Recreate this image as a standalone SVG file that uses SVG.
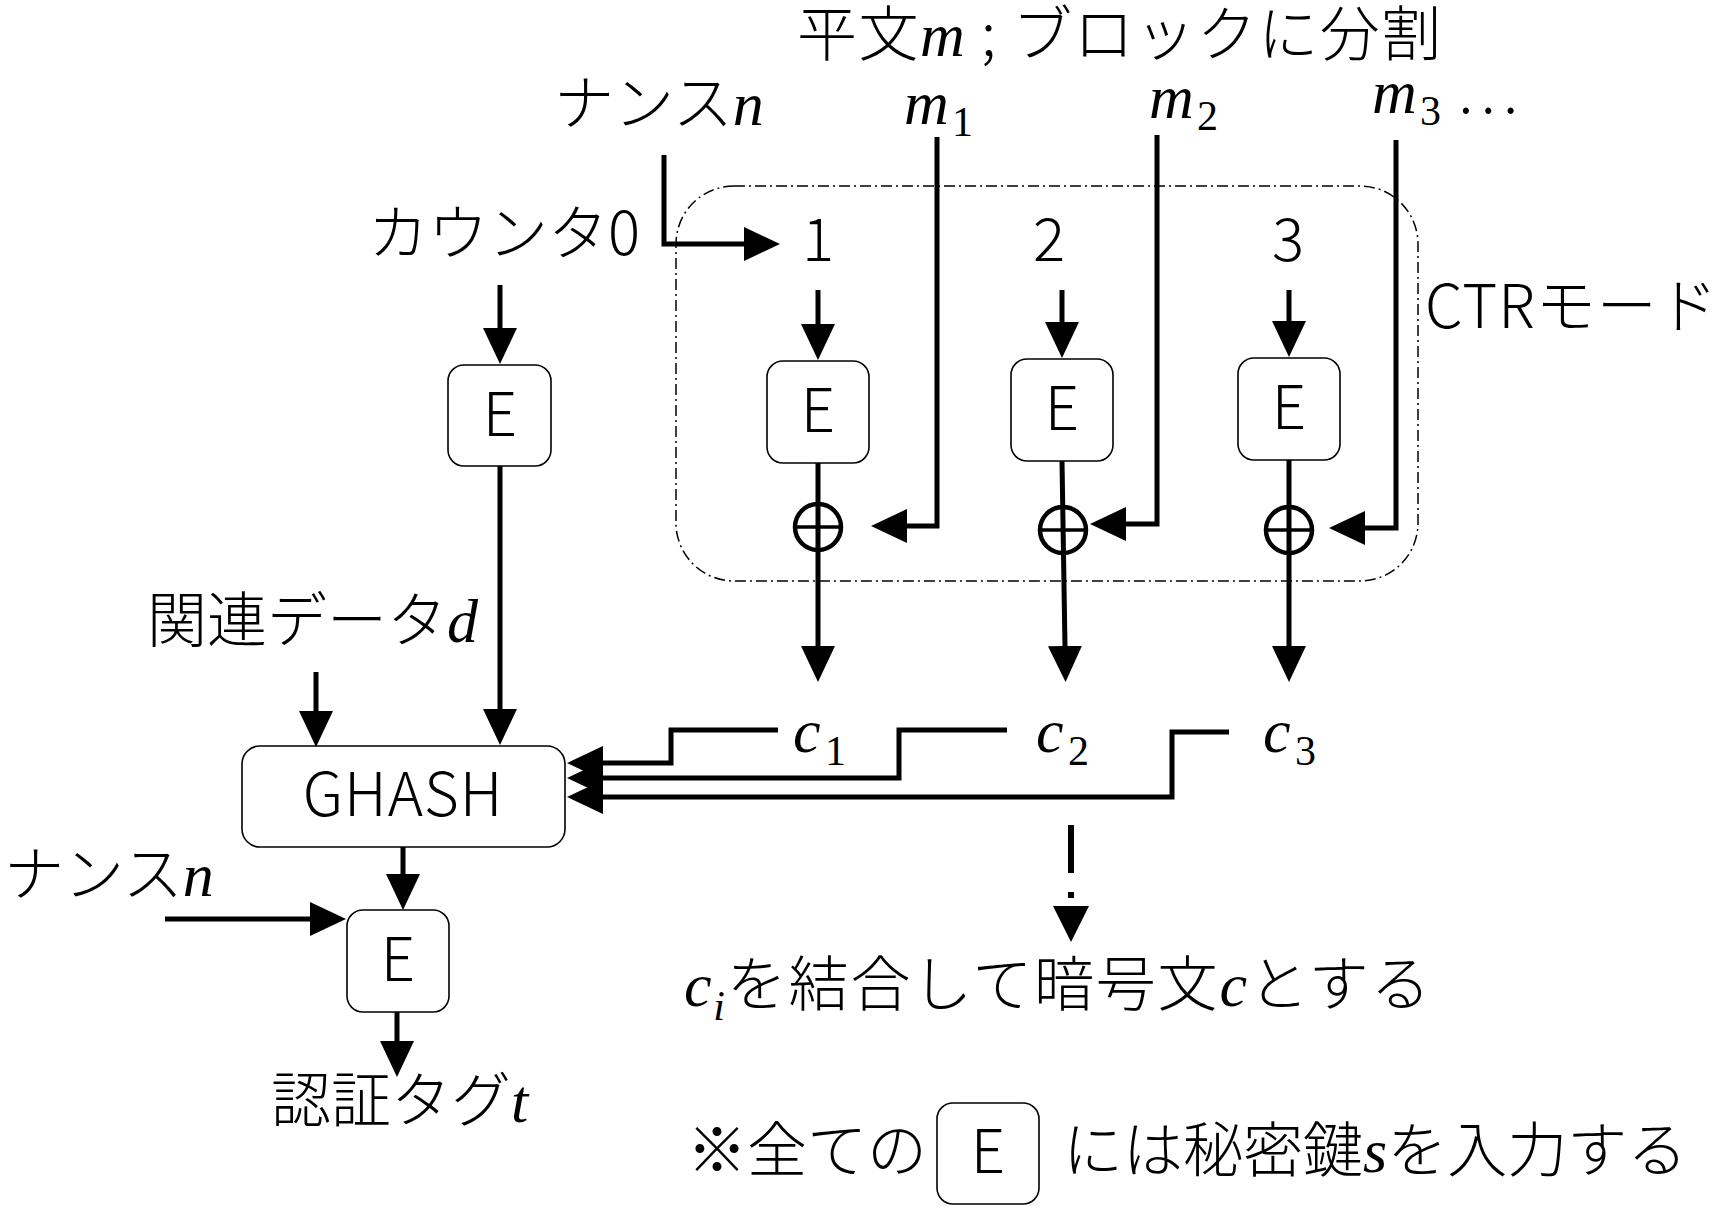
<svg xmlns="http://www.w3.org/2000/svg" width="1719" height="1207" viewBox="0 0 1719 1207">
<style>
.t{font-family:"Noto Sans CJK JP","Noto Sans",sans-serif;font-size:60px;font-weight:300;fill:#000}
.m{font-family:"Liberation Serif",serif;font-style:italic;font-size:62px}
.s{font-family:"Liberation Serif",serif;font-style:normal;font-size:42px}
.si{font-family:"Liberation Serif",serif;font-style:italic;font-size:42px}
.box{fill:#fff;stroke:#000;stroke-width:1.6}
.c{fill:none;stroke:#000;stroke-width:5;stroke-linejoin:miter}
.x{fill:none;stroke:#000;stroke-width:4.5}
.lbl{text-anchor:middle}
</style>
<defs>
<marker id="ah" markerUnits="userSpaceOnUse" markerWidth="40" markerHeight="40" viewBox="0 -20 40 40" refX="1" refY="0" orient="auto">
<path d="M0,-17 L36,0 L0,17 z" fill="#000"/>
</marker>
</defs>
<rect id="ctr-region" x="676" y="186" width="742" height="395" rx="58" ry="58" fill="none" stroke="#000" stroke-width="1.5" stroke-dasharray="11 4 2 4"/>
<g id="labels">
<text class="t" x="797" y="56" letter-spacing="1.5">平文<tspan class="m">m</tspan> ; ブロックに分割</text>
<text class="t" x="554" y="125">ナンス<tspan class="m">n</tspan></text>
<text class="t" x="904" y="124"><tspan class="m">m</tspan><tspan class="s" x="952" y="136">1</tspan></text>
<text class="t" x="1149" y="118"><tspan class="m">m</tspan><tspan class="s" x="1197" y="130">2</tspan></text>
<text class="t" x="1372" y="113"><tspan class="m">m</tspan><tspan class="s" x="1420" y="125">3</tspan><tspan x="1456" y="113">…</tspan></text>
<text class="t" x="368" y="255">カウンタ0</text>
<text class="t lbl" x="818" y="261">1</text>
<text class="t lbl" x="1049" y="261">2</text>
<text class="t lbl" x="1288" y="261">3</text>
<text class="t" x="1425" y="328" letter-spacing="1">CTRモード</text>
<text class="t" x="147" y="642">関連データ<tspan class="m">d</tspan></text>
<text class="t" x="793" y="752"><tspan class="m">c</tspan><tspan class="s" x="825" y="765">1</tspan></text>
<text class="t" x="1036" y="752"><tspan class="m">c</tspan><tspan class="s" x="1068" y="765">2</tspan></text>
<text class="t" x="1263" y="752"><tspan class="m">c</tspan><tspan class="s" x="1295" y="765">3</tspan></text>
<text class="t" x="4" y="896">ナンス<tspan class="m">n</tspan></text>
<text class="t" x="271" y="1122">認証タグ<tspan class="m">t</tspan></text>
<text class="t" x="684" y="1006" letter-spacing="1.8"><tspan class="m">c</tspan><tspan class="si" y="1020">i</tspan><tspan y="1006">を結合して暗号文</tspan><tspan class="m">c</tspan>とする</text>
<text class="t" x="687" y="1172">※全ての</text>
<text class="t" x="1063" y="1172">には秘密鍵<tspan class="m">s</tspan>を入力する</text>
</g>
<g id="node-E0"><rect class="box" x="448" y="365" width="103" height="101" rx="16"/><text class="t lbl" x="500" y="436">E</text></g>
<g id="node-E1"><rect class="box" x="767" y="361" width="102" height="102" rx="16"/><text class="t lbl" x="818" y="432">E</text></g>
<g id="node-E2"><rect class="box" x="1011" y="359" width="102" height="102" rx="16"/><text class="t lbl" x="1062" y="430">E</text></g>
<g id="node-E3"><rect class="box" x="1238" y="358" width="102" height="102" rx="16"/><text class="t lbl" x="1289" y="429">E</text></g>
<g id="node-GHASH"><rect class="box" x="242" y="746" width="323" height="101" rx="18"/><text class="t lbl" x="403" y="816" letter-spacing="1">GHASH</text></g>
<g id="node-E4"><rect class="box" x="347" y="910" width="102" height="102" rx="16"/><text class="t lbl" x="398" y="981">E</text></g>
<g id="legend-E"><rect class="box" x="937" y="1103" width="102" height="101" rx="16"/><text class="t lbl" x="988" y="1173">E</text></g>
<g id="connectors">
<path class="c" d="M500,285 V329" marker-end="url(#ah)"/>
<path class="c" d="M664,155 V244 H745" marker-end="url(#ah)"/>
<path class="c" d="M818,290 V325" marker-end="url(#ah)"/>
<path class="c" d="M1062,290 V323" marker-end="url(#ah)"/>
<path class="c" d="M1289,290 V322" marker-end="url(#ah)"/>
<path class="c" d="M818,463 V647" marker-end="url(#ah)"/>
<path class="c" d="M1062,461 L1065,647" marker-end="url(#ah)"/>
<path class="c" d="M1289,460 V647" marker-end="url(#ah)"/>
<path class="c" d="M937,137 V526 H906" marker-end="url(#ah)"/>
<path class="c" d="M1157,135 V524 H1125" marker-end="url(#ah)"/>
<path class="c" d="M1396,140 V528 H1364" marker-end="url(#ah)"/>
<path class="c" d="M316,672 V712" marker-end="url(#ah)"/>
<path class="c" d="M500,466 V710" marker-end="url(#ah)"/>
<path class="c" d="M778,730 H671 V763 H602" marker-end="url(#ah)"/>
<path class="c" d="M1007,730 H899 V778 H602" marker-end="url(#ah)"/>
<path class="c" d="M1229,732 H1172 V797 H602" marker-end="url(#ah)"/>
<path class="c" d="M403,847 V875" marker-end="url(#ah)"/>
<path class="c" d="M165,919 H311" marker-end="url(#ah)"/>
<path class="c" d="M397,1012 V1042" marker-end="url(#ah)"/>
<path d="M1071,825 V873" stroke="#000" stroke-width="6"/>
<rect x="1068" y="892" width="6" height="6" fill="#000"/>
<path d="M1053,906 L1089,906 L1071,942 z" fill="#000"/>
</g>
<g id="xor1"><circle class="x" cx="818" cy="527" r="23"/><path d="M795,527 H841" stroke="#000" stroke-width="3.5"/></g>
<g id="xor2"><circle class="x" cx="1063" cy="530" r="23"/><path d="M1040,530 H1086" stroke="#000" stroke-width="3.5"/></g>
<g id="xor3"><circle class="x" cx="1289" cy="530" r="23"/><path d="M1266,530 H1312" stroke="#000" stroke-width="3.5"/></g>
</svg>
